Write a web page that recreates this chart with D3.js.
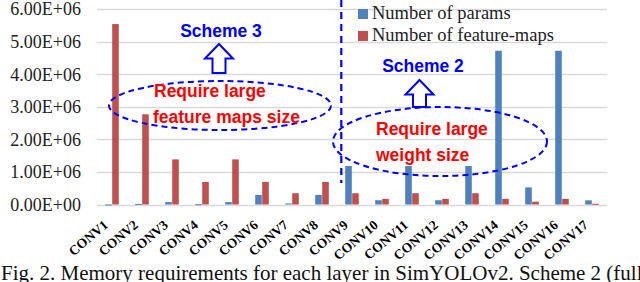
<!DOCTYPE html>
<html>
<head>
<meta charset="utf-8">
<script src="https://cdn.jsdelivr.net/npm/d3@7"></script>
<style>
  body { margin: 0; background: #fff; }
  svg { display: block; }
</style>
</head>
<body>
<div id="chart"></div>
<script>
// Layers on the x axis
const layers = ["CONV1", "CONV2", "CONV3", "CONV4", "CONV5", "CONV6", "CONV7", "CONV8", "CONV9",
  "CONV10", "CONV11", "CONV12", "CONV13", "CONV14", "CONV15", "CONV16", "CONV17"];

// Number of params per layer
const params = [864, 18432, 73728, 8192, 73728, 294912, 32768, 294912, 1179648,
  131072, 1179648, 131072, 1179648, 4718592, 524288, 4718592, 128000];

// Number of feature-maps per layer
const featureMaps = [5537792, 2768896, 1384448, 692224, 1384448, 692224, 346112, 692224, 346112,
  173056, 346112, 173056, 346112, 173056, 86528, 173056, 21125];

const seriesNames = ["Number of params", "Number of feature-maps"];
const seriesColors = ["#4f81bd", "#c0504d"];
const yTicks = [0, 1e6, 2e6, 3e6, 4e6, 5e6, 6e6];

const width = 640;
const height = 282;
const margin = { top: 9, right: 33, bottom: 77.5, left: 97 };

const svg = d3.select("#chart").append("svg")
    .attr("width", width)
    .attr("height", height);

const x0 = d3.scaleBand()
    .domain(layers)
    .range([margin.left, width - margin.right])
    .paddingInner(0.52)
    .paddingOuter(0.26);

const x1 = d3.scaleBand()
    .domain([0, 1])
    .range([0, x0.bandwidth()])
    .padding(0.06);

const y = d3.scaleLinear()
    .domain([0, 6e6])
    .range([height - margin.bottom, margin.top]);

// gridlines
svg.append("g")
    .selectAll("line")
    .data(yTicks)
    .enter()
    .append("line")
    .attr("x1", margin.left)
    .attr("x2", width - margin.right)
    .attr("y1", d => Math.round(y(d)) + 0.5)
    .attr("y2", d => Math.round(y(d)) + 0.5)
    .attr("stroke", "#d9d9d9")
    .attr("stroke-width", 1.3);

// y tick labels
svg.append("g")
    .selectAll("text")
    .data(yTicks)
    .enter()
    .append("text")
    .attr("x", 81)
    .attr("y", d => y(d))
    .attr("dy", "0.36em")
    .attr("text-anchor", "end")
    .attr("font-family", "Liberation Serif, Times New Roman, serif")
    .attr("font-size", 18)
    .attr("fill", "#222")
    .text(d => (d / 1e6).toFixed(2) + "E+" + (d === 0 ? "00" : "06"));

// bars
const rows = layers.map((l, i) => ({ layer: l, values: [params[i], featureMaps[i]] }));

const group = svg.append("g")
    .selectAll("g")
    .data(rows)
    .enter()
    .append("g")
    .attr("transform", d => `translate(${x0(d.layer)},0)`);

group.selectAll("rect")
    .data(d => d.values.map((v, k) => ({ k: k, v: v })))
    .enter()
    .append("rect")
    .attr("x", d => x1(d.k))
    .attr("width", x1.bandwidth())
    .attr("y", d => y(d.v))
    .attr("height", d => Math.max(1, y(0) - y(d.v)))
    .attr("fill", d => seriesColors[d.k]);

// x labels, rotated
svg.append("g")
    .selectAll("text")
    .data(layers)
    .enter()
    .append("text")
    .attr("transform", d => `translate(${x0(d) + x0.bandwidth() / 2 - 3},${y(0) + 22}) rotate(-40)`)
    .attr("text-anchor", "end")
    .attr("font-family", "Liberation Serif, Times New Roman, serif")
    .attr("font-weight", "bold")
    .attr("font-size", 13.5)
    .attr("fill", "#000")
    .text(d => d);

// legend
const legend = svg.append("g")
    .selectAll("g")
    .data(seriesNames)
    .enter()
    .append("g")
    .attr("transform", (d, i) => `translate(358,${9 + i * 22})`);

legend.append("rect")
    .attr("width", 10)
    .attr("height", 10)
    .attr("fill", (d, i) => seriesColors[i]);

legend.append("text")
    .attr("x", 14)
    .attr("y", 10)
    .attr("font-family", "Liberation Serif, Times New Roman, serif")
    .attr("font-size", 18.5)
    .attr("fill", "#222")
    .text(d => d);

// annotations
const blue = "#0000ff";
const red = "#ff0000";
const ann = svg.append("g");

// split between scheme 3 and scheme 2 layers
const splitX = x0("CONV9") - 3.5;
ann.append("line")
    .attr("x1", splitX).attr("x2", splitX)
    .attr("y1", 0).attr("y2", 183)
    .attr("stroke", blue)
    .attr("stroke-width", 2.2)
    .attr("stroke-dasharray", "7,5");

function blockArrow(cx, tipY, baseY) {
  const headY = tipY + 14.5;
  const pts = [[cx, tipY], [cx + 14, headY], [cx + 6.5, headY], [cx + 6.5, baseY],
    [cx - 6.5, baseY], [cx - 6.5, headY], [cx - 14, headY]];
  ann.append("polygon")
    .attr("points", pts.map(p => p.join(",")).join(" "))
    .attr("fill", "#fff")
    .attr("stroke", blue)
    .attr("stroke-width", 2);
}

function label(text, xPos, yPos, color, anchor) {
  ann.append("text")
    .attr("x", xPos)
    .attr("y", yPos)
    .attr("text-anchor", anchor)
    .attr("font-family", "Liberation Sans, Arial, sans-serif")
    .attr("font-weight", "bold")
    .attr("font-size", 17.5)
    .attr("fill", color)
    .text(text);
}

// scheme 3
ann.append("ellipse")
    .attr("cx", 220).attr("cy", 105.5)
    .attr("rx", 111).attr("ry", 24.5)
    .attr("fill", "none")
    .attr("stroke", blue)
    .attr("stroke-width", 2)
    .attr("stroke-dasharray", "6,4");
label("Scheme 3", 221, 36.5, blue, "middle");
blockArrow(219, 44, 73);
label("Require large", 154, 97, red, "start");
label("feature maps size", 153, 122.5, red, "start");

// scheme 2
ann.append("ellipse")
    .attr("cx", 440).attr("cy", 141.5)
    .attr("rx", 107).attr("ry", 34.5)
    .attr("fill", "none")
    .attr("stroke", blue)
    .attr("stroke-width", 2)
    .attr("stroke-dasharray", "6,4");
label("Scheme 2", 423, 71.5, blue, "middle");
blockArrow(419.5, 80, 107);
label("Require large", 376, 135, red, "start");
label("weight size", 376, 160.5, red, "start");

// caption (cut by the frame like in the paper crop)
svg.append("text")
    .attr("x", 1)
    .attr("y", 279.5)
    .attr("font-family", "Liberation Serif, Times New Roman, serif")
    .attr("font-size", 21)
    .attr("fill", "#111")
    .text("Fig. 2. Memory requirements for each layer in SimYOLOv2. Scheme 2 (full");
</script>
</body>
</html>
